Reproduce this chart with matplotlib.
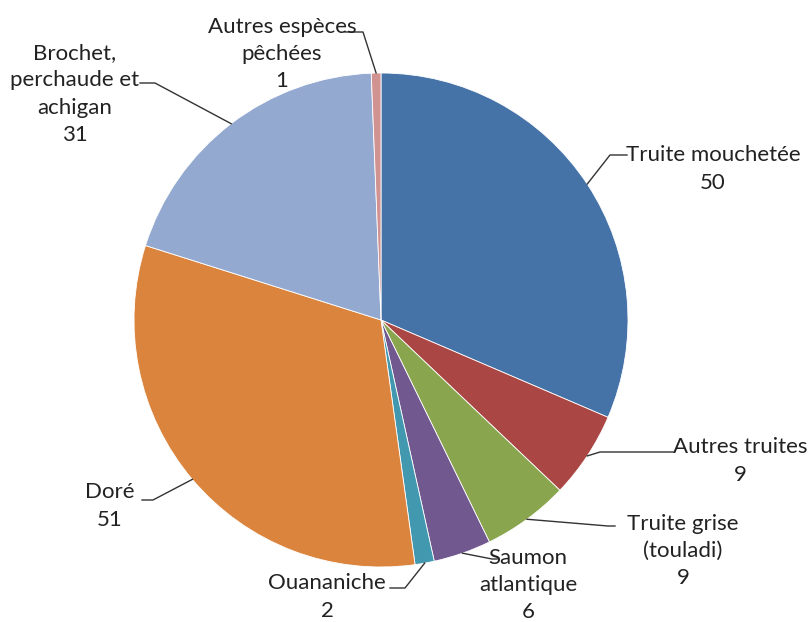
import numpy as np
import matplotlib
matplotlib.use("Agg")
import matplotlib.pyplot as plt

# data, clockwise from 12 o'clock
labels = ["Truite mouchetée", "Autres truites", "Truite grise\n(touladi)",
          "Saumon\natlantique", "Ouananiche", "Doré",
          "Brochet,\nperchaude et\nachigan", "Autres espèces\npêchées"]
values = [50, 9, 9, 6, 2, 51, 31, 1]
colors = ["#4572A7", "#AA4643", "#89A54E", "#71588F", "#4198AF",
          "#DB843D", "#93A9CF", "#D19392"]

W, H = 809, 622
cx, cy, R = 381, 320, 247   # pie centre / radius, image pixels

# label layout: (elbow x, elbow y, line end x, text centre x, text centre y)
layout = [
    (610, 155, 627, 713, 169),
    (600, 452, 673, 740, 461),
    (608, 526, 615, 683, 551),
    (492, 559, 497, 528, 585),
    (405, 588, 390, 327, 597),
    (153, 500, 142, 110, 506),
    (155, 83, 140, 75, 94),
    (363, 32, 345, 282, 54),
]

plt.rcParams['font.family'] = ['Lato', 'DejaVu Sans']

fig = plt.figure(figsize=(W / 100, H / 100), dpi=100)
ax = fig.add_axes([0, 0, 1, 1])

ax.pie(values, colors=colors, startangle=90, counterclock=False,
       center=(cx, H - cy), radius=R,
       wedgeprops=dict(edgecolor="white", linewidth=0.6))
ax.set_xlim(0, W)
ax.set_ylim(0, H)
ax.set_aspect("equal")
ax.axis("off")

total = sum(values)
cum = 0
for lab, v, (ex, ey, lx, tx, ty) in zip(labels, values, layout):
    mid = (cum + v / 2) / total * 2 * np.pi
    cum += v
    sx = cx + R * np.sin(mid)
    sy = cy - R * np.cos(mid)
    ax.plot([sx, ex, lx], [H - sy, H - ey, H - ey], color="#333333", lw=1.0)
    ax.text(tx, H - ty, lab + "\n" + str(v), ha="center", va="center",
            fontsize=16, color="#222222", linespacing=1.45)

fig.savefig("out.png", dpi=100)
